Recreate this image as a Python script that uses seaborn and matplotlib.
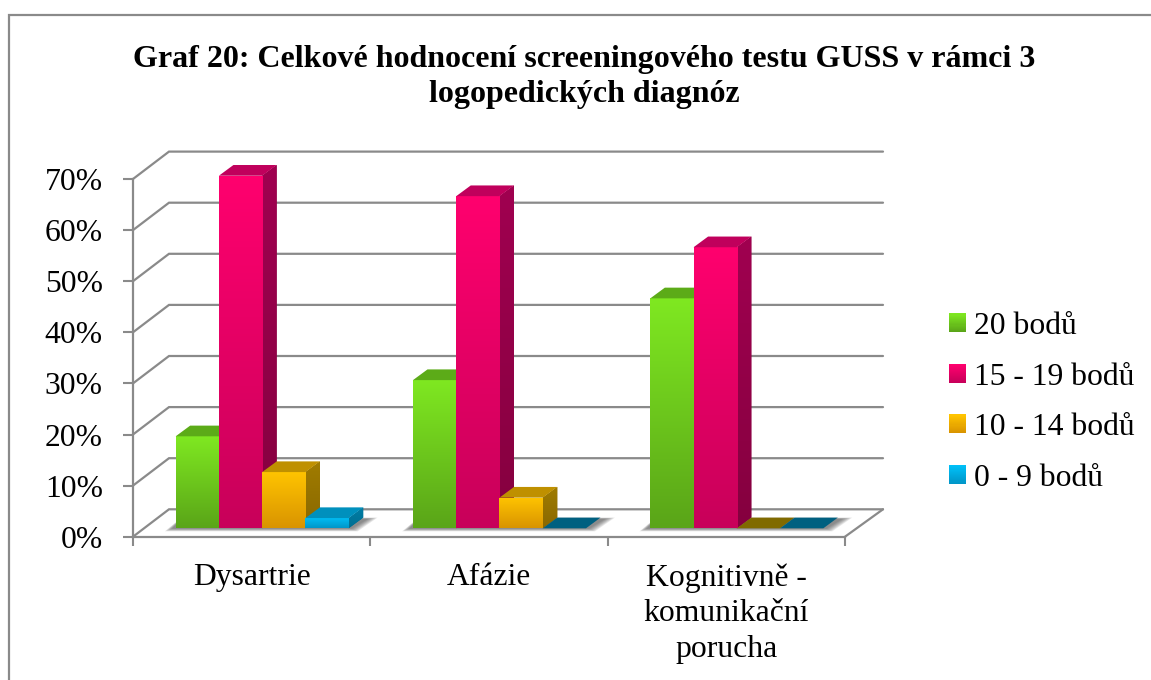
import numpy as np
import pandas as pd
import matplotlib
matplotlib.use('Agg')
import matplotlib.pyplot as plt
import matplotlib.colors as mcolors
from matplotlib.legend_handler import HandlerBase
from matplotlib.lines import Line2D
from matplotlib.patches import Patch, Polygon, Rectangle
import seaborn as sns

# Data
categories = ['Dysartrie', 'Afázie', 'Kognitivně -\nkomunikační\nporucha']
series = ['20 bodů', '15 - 19 bodů', '10 - 14 bodů', '0 - 9 bodů']
values_20 = [18, 29, 45]
values_15_19 = [69, 65, 55]
values_10_14 = [11, 6, 0]
values_0_9 = [2, 0, 0]
y_ticks = [0, 10, 20, 30, 40, 50, 60, 70]
y_tick_labels = ['0%', '10%', '20%', '30%', '40%', '50%', '60%', '70%']
title = 'Graf 20: Celkové hodnocení screeningového testu GUSS v rámci 3\nlogopedických diagnóz'

# Colours per series
front_top = ['#7fe821', '#ff006e', '#ffc400', '#00c0f8']
front_bottom = ['#5aa518', '#c8005a', '#d99400', '#0096c8']
top_face = ['#5cab18', '#c0005c', '#bf9000', '#0090bd']
side_top = ['#4f9214', '#a00050', '#a07c00', '#007ea6']
side_bottom = ['#3f7510', '#85003f', '#8a6800', '#006f92']
zero_face = ['#3f7510', '#85003f', '#806a00', '#006080']
GREY = '#8a8a8a'

W, H = 1151, 680
FONT = 'Liberation Serif'
FS = 22.8

sns.set_style('white')
plt.rcParams['font.family'] = [FONT, 'DejaVu Sans']

df = pd.DataFrame({
    'category': categories * 4,
    'series': np.repeat(series, 3),
    'value': values_20 + values_15_19 + values_10_14 + values_0_9,
})

fig = plt.figure(figsize=(W / 100, H / 100), dpi=100)
ax = fig.add_axes([133 / W, (H - 536.7) / H, 712 / W, 357.7 / H])
ax.patch.set_alpha(0)

sns.barplot(data=df, x='category', y='value', hue='series', order=categories,
            hue_order=series, palette=front_top, width=0.729, gap=0, linewidth=0,
            legend=False, errorbar=None, ax=ax)

ax.set_xlim(-0.5, 2.5)
ax.set_ylim(0, 70)
ax.set_autoscale_on(False)

# pixel to data units
px_x = 3 / 712
px_y = 70 / 357.7
wall_dx, wall_dy = 36 * px_x, 27.4 * px_y     # back wall offset
wall_right = 2.5 + 38 * px_x
bar_dx, bar_dy = 10.5 * px_x, 8.4 * px_y      # bars stand inside the floor
depth_x, depth_y = 14.5 * px_x, 10.7 * px_y   # bar depth


def gradient_image(bounds, top, bottom, zorder):
    x0, x1, y0, y1 = bounds
    c0, c1 = np.array(mcolors.to_rgb(top)), np.array(mcolors.to_rgb(bottom))
    t = np.linspace(0, 1, 64)[:, None, None]
    arr = c0 * (1 - t) + c1 * t
    im = ax.imshow(arr, extent=(x0, x1, y0, y1), aspect='auto',
                   interpolation='bilinear', zorder=zorder)
    im.set_clip_box(fig.bbox)
    return im


# Back wall and floor lines
for v in y_ticks:
    yb = v + wall_dy
    ax.plot([-0.5, -0.5 + wall_dx, wall_right], [v, yb, yb], color=GREY,
            lw=1.6, clip_on=False, zorder=1, solid_joinstyle='miter')
ax.plot([2.5, wall_right], [0, wall_dy], color=GREY, lw=1.6, clip_on=False, zorder=1)

# Soft shadow on the floor under each group
group_w = 0.729
for i in range(len(categories)):
    left = i - group_w / 2 + bar_dx
    right = i + group_w / 2 + bar_dx
    for k in range(7):
        e = (9 - k) * px_x
        ey = (3 - k * 0.45) * px_y
        ax.add_patch(Polygon([(left - 1.2 * e, bar_dy - ey), (right + e, bar_dy - ey),
                              (right + depth_x + 1.6 * e, bar_dy + depth_y * (1 - k * 0.02)),
                              (left + depth_x * 0.4, bar_dy + depth_y * (1 - k * 0.02))],
                             closed=True, facecolor='#4a4a4a', alpha=0.13, lw=0,
                             zorder=1.5, clip_on=False))

# Turn flat bars into boxes
for j, container in enumerate(ax.containers):
    for i, bar in enumerate(container):
        z = 3 + i + j * 0.1
        h = bar.get_height()
        x0 = bar.get_x() + bar_dx
        x1 = x0 + bar.get_width()
        y0 = bar_dy
        y1 = y0 + h
        bar.set_x(x0)
        bar.set_y(y0)
        bar.set_zorder(z)
        bar.set_clip_on(False)

        side = Polygon([(x1, y0), (x1 + depth_x, y0 + depth_y),
                        (x1 + depth_x, y1 + depth_y), (x1, y1)], closed=True,
                       facecolor=side_bottom[j], lw=0, zorder=z, clip_on=False)
        ax.add_patch(side)
        if h > 0:
            im = gradient_image((x1, x1 + depth_x, y0, y1 + depth_y),
                                side_top[j], side_bottom[j], z + 0.01)
            im.set_clip_path(side)
            im = gradient_image((x0, x1, y0, y1), front_top[j], front_bottom[j], z + 0.02)
            im.set_clip_path(bar)
        ax.add_patch(Polygon([(x0, y1), (x1, y1), (x1 + depth_x, y1 + depth_y),
                              (x0 + depth_x, y1 + depth_y)], closed=True,
                             facecolor=top_face[j] if h > 0 else zero_face[j],
                             lw=0, zorder=z + 0.03, clip_on=False))

# Axes
for name in ['top', 'right']:
    ax.spines[name].set_visible(False)
for name in ['left', 'bottom']:
    ax.spines[name].set_color(GREY)
    ax.spines[name].set_linewidth(1.6)
    ax.spines[name].set_zorder(2)
ax.set_xlabel('')
ax.set_ylabel('')
ax.set_yticks(y_ticks, y_tick_labels)
ax.set_xticks(range(len(categories)), categories)
ax.set_xticks([-0.5, 0.5, 1.5, 2.5], minor=True)
ax.tick_params(axis='y', length=7.2, width=1.5, color=GREY, pad=14.5, labelsize=FS, left=True)
ax.tick_params(axis='x', which='major', length=0, pad=19, labelsize=FS)
ax.tick_params(axis='x', which='minor', length=6.5, width=1.5, color=GREY, bottom=True)
for t in ax.get_xticklabels():
    t.set_linespacing(1.31)
    t.set_color('black')
for t in ax.get_yticklabels():
    t.set_color('black')


class GradientHandler(HandlerBase):
    def __init__(self, top, bottom):
        super().__init__()
        self.top = np.array(mcolors.to_rgb(top))
        self.bottom = np.array(mcolors.to_rgb(bottom))

    def create_artists(self, legend, orig_handle, xdescent, ydescent, width, height,
                       fontsize, trans):
        n = 17
        out = []
        for k in range(n):
            f = k / (n - 1)
            out.append(Rectangle((-xdescent, -ydescent + height * k / n), width,
                                 height / n + 0.3, transform=trans, lw=0,
                                 facecolor=self.bottom * (1 - f) + self.top * f))
        return out


handles = [Patch(label=s) for s in series]
handler_map = {h: GradientHandler(front_top[j], front_bottom[j]) for j, h in enumerate(handles)}
fig.legend(handles=handles, handler_map=handler_map, loc='upper left',
           bbox_to_anchor=(949 / W, (H - 312) / H), frameon=False, fontsize=FS,
           borderpad=0, borderaxespad=0, handlelength=0.536, handleheight=0.536,
           handletextpad=0.24, labelspacing=0.68, labelcolor='black')

fig.text(584.5 / W, (H - 77) / H, title, ha='center', va='center', fontsize=23.05,
         fontweight='bold', linespacing=1.24, color='black')

# Chart frame, cut by the edge of the picture
fig.add_artist(Line2D([9 / W, 9 / W, 1], [0, (H - 15) / H, (H - 15) / H], color=GREY, lw=1.6,
                      solid_joinstyle='miter'))

plt.savefig('out.png', dpi=100)
plt.close()
